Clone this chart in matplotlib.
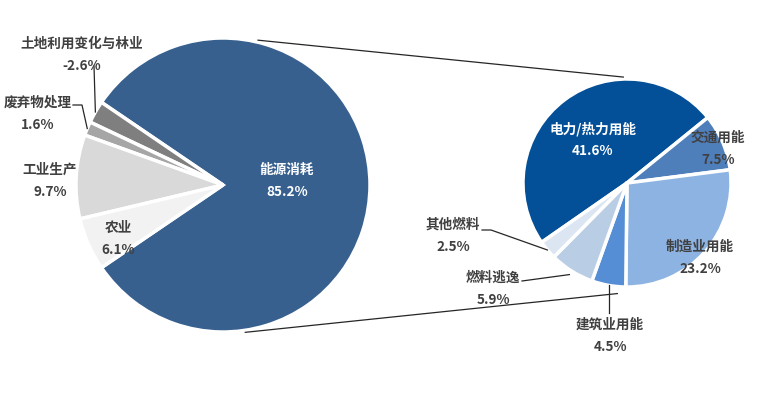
import matplotlib
matplotlib.use('Agg')
import matplotlib.pyplot as plt
import numpy as np

plt.rcParams['font.family'] = ['Noto Sans CJK SC', 'DejaVu Sans']

# ---- data ----
main_labels = ['能源消耗', '土地利用变化与林业', '废弃物处理', '工业生产', '农业']
main_values = [85.2, -2.6, 1.6, 9.7, 6.1]
main_colors = ['#37608f', '#7f7f7f', '#a6a6a6', '#d9d9d9', '#f2f2f2']

sub_labels = ['电力/热力用能', '交通用能', '制造业用能', '建筑业用能', '燃料逃逸', '其他燃料']
sub_values = [41.6, 7.5, 23.2, 4.5, 5.9, 2.5]
sub_colors = ['#034f98', '#4f7fbb', '#8db3e2', '#558ed5', '#b9cde5', '#dce6f2']

W, H = 768, 400
fig = plt.figure(figsize=(W / 100, H / 100), dpi=100)
ax = fig.add_axes([0, 0, 1, 1])


def P(x, y):
    return x, H - y


# left pie
lc = P(223, 185)
lr = 147
main_sizes = [abs(v) for v in main_values]
main_start = -main_sizes[0] / sum(main_sizes) * 360 / 2
lw, _ = ax.pie(main_sizes, colors=main_colors, center=lc, radius=lr,
               startangle=main_start, counterclock=True,
               explode=[0, 0.02, 0.02, 0.02, 0.02],
               wedgeprops=dict(edgecolor='white', linewidth=2.5))

# right pie
rc = P(627, 183)
rr = 104
sub_start = 214.8
rw, _ = ax.pie(sub_values, colors=sub_colors, center=rc, radius=rr,
               startangle=sub_start, counterclock=False,
               explode=[0.03] * len(sub_values),
               wedgeprops=dict(edgecolor='white', linewidth=2.5))

ax.set_xlim(0, W)
ax.set_ylim(0, H)
ax.set_aspect('equal')
ax.axis('off')


def on_circle(c, r, ang):
    a = np.deg2rad(ang)
    return c[0] + r * np.cos(a), c[1] + r * np.sin(a)


def wedge_outer(w, frac=1.0):
    a = np.deg2rad((w.theta1 + w.theta2) / 2)
    cx, cy = w.center
    return cx + w.r * frac * np.cos(a), cy + w.r * frac * np.sin(a)


# connector lines between pies
for la, ra, rrad in [(76.4, 92, 106), (-81.4, -95, 111)]:
    p1 = on_circle(lc, lr + 2, la)
    p2 = on_circle(rc, rrad, ra)
    ax.plot([p1[0], p2[0]], [p1[1], p2[1]], color='#262626', lw=0.9)

dark = '#404040'
fs = 9.8


def label(x, y, name, pct, color=dark):
    ax.text(*P(x, y - 11), name, ha='center', va='center', fontsize=fs,
            fontweight='bold', color=color)
    ax.text(*P(x, y + 11), pct, ha='center', va='center', fontsize=fs,
            fontweight='bold', color=color)


def pct(v):
    return f'{v:.1f}%'


main_pos = [(287, 181, 'white'), (82, 55, dark), (38, 114, dark),
            (50, 181, dark), (118, 239, dark)]
for name, v, (x, y, c) in zip(main_labels, main_values, main_pos):
    label(x, y, name, pct(v), c)

sub_pos = [(593, 140, 'white'), (718, 149, dark), (700, 258, dark),
           (610, 336, dark), (493, 289, dark), (453, 236, dark)]
for name, v, (x, y, c) in zip(sub_labels, sub_values, sub_pos):
    label(x, y, name, pct(v), c)

# leader lines
lk = dict(color='#262626', lw=0.9)
e = wedge_outer(lw[1])
s = P(94, 66)
ax.plot([s[0], e[0]], [s[1], e[1]], **lk)
e = wedge_outer(lw[2])
a, b = P(73, 105), P(82, 105)
ax.plot([a[0], b[0], e[0]], [a[1], b[1], e[1]], **lk)

e = wedge_outer(rw[5])
a, b = P(482, 230), P(491, 230)
ax.plot([a[0], b[0], e[0]], [a[1], b[1], e[1]], **lk)
e = wedge_outer(rw[4], 1.04)
a = P(522, 281)
ax.plot([a[0], e[0]], [a[1], e[1]], **lk)
e = wedge_outer(rw[3])
a = P(e[0], 313)
ax.plot([e[0], e[0]], [e[1], a[1]], **lk)

fig.savefig('out.png', dpi=100, facecolor='white')
